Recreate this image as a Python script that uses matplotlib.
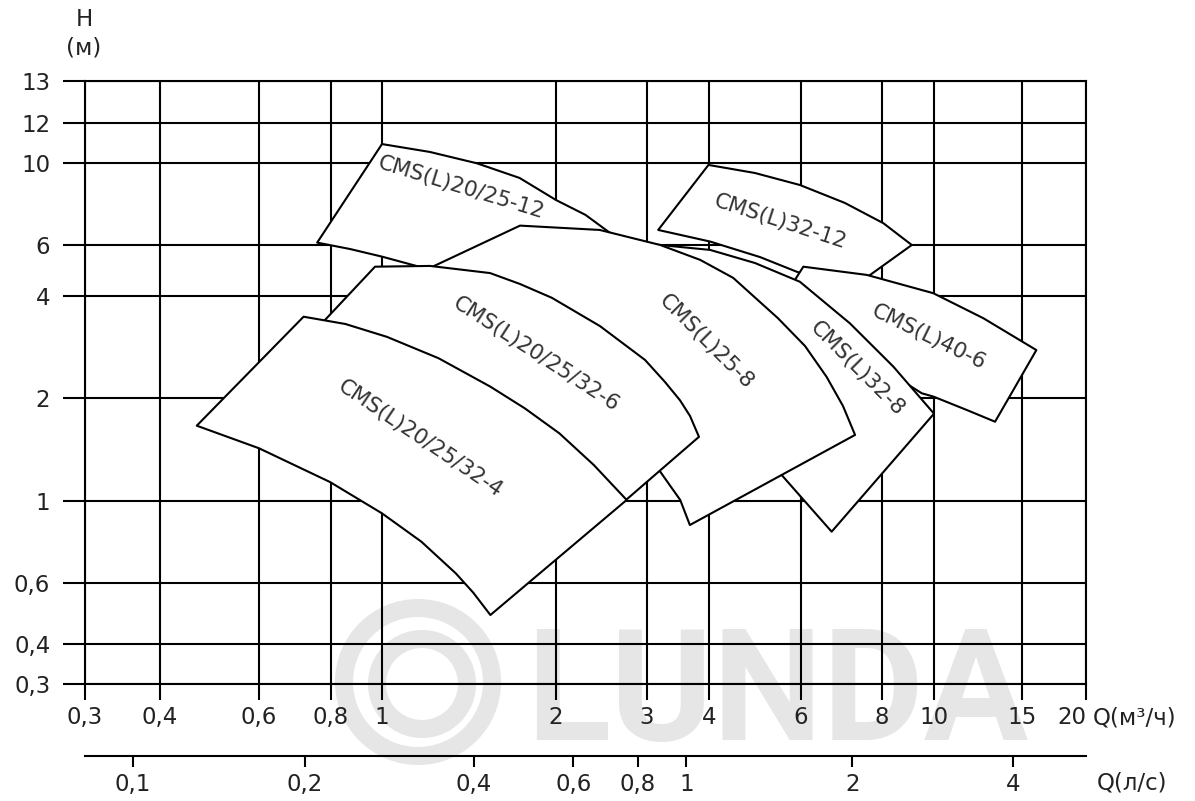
import numpy as np
import matplotlib
matplotlib.use("Agg")
import matplotlib.pyplot as plt
from matplotlib.patches import Circle
from matplotlib.ticker import NullLocator

plt.rcParams['font.family'] = ['DejaVu Sans']

# сетка на исходном графике не строго логарифмическая,
# поэтому шкалы задаются по положению линий сетки
q_ticks = [0.3, 0.4, 0.6, 0.8, 1, 2, 3, 4, 6, 8, 10, 15, 20]
q_labels = ['0,3', '0,4', '0,6', '0,8', '1', '2', '3', '4', '6', '8', '10', '15', '20']
q_grid_pos = [85, 160, 259, 331, 382, 556, 647, 709, 801, 882, 934, 1022, 1086]

h_ticks = [0.3, 0.4, 0.6, 1, 2, 4, 6, 10, 12, 13]
h_labels = ['0,3', '0,4', '0,6', '1', '2', '4', '6', '10', '12', '13']
h_grid_pos = [117, 157, 218, 300, 403, 505, 556, 638, 678.5, 720]

ls_ticks = [0.1, 0.2, 0.4, 0.6, 0.8, 1, 2, 4]          # л/с
ls_labels = ['0,1', '0,2', '0,4', '0,6', '0,8', '1', '2', '4']

# рабочие поля насосов (Q м3/ч, H м), обход по контуру
names = ["CMS(L)20/25-12", "CMS(L)32-12", "CMS(L)40-6", "CMS(L)32-8",
         "CMS(L)25-8", "CMS(L)20/25/32-6", "CMS(L)20/25/32-4"]

q_20_25_12 = [1.0, 1.21, 1.46, 1.73, 2.0, 2.28, 2.51, 2.91, 2.04, 1.48, 1.31, 1.13, 1.0, 0.87, 0.757]
h_20_25_12 = [10.89, 10.51, 9.98, 9.11, 7.94, 7.24, 6.56, 5.54, 3.89, 4.37, 4.73, 5.12, 5.47, 5.81, 6.09]

q_32_12 = [3.99, 4.898, 5.97, 7.014, 8.05, 9.09, 7.67, 7.14, 5.89, 5.01, 4.02, 3.16]
h_32_12 = [9.88, 9.396, 8.72, 7.795, 6.87, 6.0, 4.73, 4.21, 4.85, 5.45, 6.13, 6.59]

q_40_6 = [6.05, 7.58, 9.97, 12.55, 16.0, 13.25, 11.63, 9.97, 9.49, 8.10, 6.89, 5.52]
h_40_6 = [5.05, 4.73, 4.09, 3.44, 2.77, 1.705, 1.845, 2.02, 2.065, 2.42, 3.11, 3.89]

q_32_8 = [2.66, 3.19, 4.02, 4.898, 5.97, 7.14, 8.40, 10.0, 6.69, 6.12, 5.51, 4.585, 3.66, 2.91, 2.43]
h_32_8 = [6.08, 6.0, 5.77, 5.20, 4.48, 3.32, 2.475, 1.80, 0.826, 0.986, 1.191, 1.668, 2.42, 3.28, 3.89]

q_25_8 = [1.733, 2.43, 3.19, 3.84, 4.45, 5.42, 6.086, 6.57, 6.965, 7.27,
          3.66, 3.50, 3.19, 2.78, 2.23, 1.60, 1.074]
h_25_8 = [6.77, 6.59, 6.0, 5.33, 4.62, 3.44, 2.848, 2.31, 1.895, 1.56,
          0.861, 1.007, 1.218, 1.61, 2.19, 3.07, 4.47]

q_20_25_32_6 = [0.970, 1.211, 1.538, 1.733, 1.968, 2.433, 2.974, 3.261, 3.496, 3.663, 3.818,
                2.732, 2.03, 1.54, 1.02, 0.711]
h_20_25_32_6 = [5.05, 5.08, 4.80, 4.40, 3.95, 3.26, 2.59, 2.23, 1.97, 1.772, 1.54,
                1.007, 1.363, 1.845, 2.59, 2.867]

q_20_25_32_4 = [0.717, 0.852, 1.02, 1.253, 1.54, 1.766, 2.03, 2.367, 2.74,
                1.54, 1.438, 1.342, 1.170, 1.0, 0.797, 0.600, 0.465]
h_20_25_32_4 = [3.475, 3.307, 3.03, 2.62, 2.16, 1.866, 1.577, 1.274, 1.007,
                0.485, 0.563, 0.637, 0.776, 0.926, 1.136, 1.426, 1.66]

fields = [(q_20_25_12, h_20_25_12), (q_32_12, h_32_12), (q_40_6, h_40_6),
          (q_32_8, h_32_8), (q_25_8, h_25_8), (q_20_25_32_6, h_20_25_32_6),
          (q_20_25_32_4, h_20_25_32_4)]

# где стоят подписи и под каким углом
label_q = [1.37, 5.47, 9.79, 7.32, 3.94, 1.85, 1.163]
label_h = [8.56, 6.92, 3.03, 2.435, 2.93, 2.70, 1.518]
label_rot = [-17, -18, -26, -45, -45, -33, -34]


def grid_scale(vals, pos):
    lv = np.log10(vals)
    pos = np.asarray(pos, float)
    k0 = (pos[1] - pos[0]) / (lv[1] - lv[0])
    k1 = (pos[-1] - pos[-2]) / (lv[-1] - lv[-2])

    def fwd(v):
        l = np.log10(np.clip(np.asarray(v, float), 1e-9, None))
        out = np.interp(l, lv, pos)
        out = np.where(l < lv[0], pos[0] + (l - lv[0]) * k0, out)
        return np.where(l > lv[-1], pos[-1] + (l - lv[-1]) * k1, out)

    def inv(p):
        p = np.asarray(p, float)
        l = np.interp(p, pos, lv)
        l = np.where(p < pos[0], lv[0] + (p - pos[0]) / k0, l)
        l = np.where(p > pos[-1], lv[-1] + (p - pos[-1]) / k1, l)
        return 10 ** l

    return fwd, inv


xscale = grid_scale(q_ticks, q_grid_pos)
yscale = grid_scale(h_ticks, h_grid_pos)

W, H = 1195, 801
fs = 16.5
tc = '#222222'
fig = plt.figure(figsize=(W / 100, H / 100), dpi=100)

# водяной знак
wm = '#e6e6e6'
fig.add_artist(Circle((4.18, 1.19), 0.74, transform=fig.dpi_scale_trans,
                      fill=False, ec=wm, lw=13, zorder=-2))
fig.add_artist(Circle((4.22, 1.17), 0.45, transform=fig.dpi_scale_trans,
                      fill=False, ec=wm, lw=13, zorder=-2))
fig.text(526 / W, 61 / H, 'LUNDA', fontsize=112, fontweight='bold',
         family=['Roboto', 'DejaVu Sans'], color=wm, ha='left',
         va='baseline', zorder=-2)

ax = fig.add_axes([85 / W, 1 - 684 / H, 1001 / W, 603 / H], facecolor='none')
ax.set_xscale('function', functions=xscale)
ax.set_yscale('function', functions=yscale)
ax.set_xlim(0.3, 20)
ax.set_ylim(0.3, 13)
ax.set_xticks(q_ticks, q_labels)
ax.set_yticks(h_ticks, h_labels)
ax.xaxis.set_minor_locator(NullLocator())
ax.yaxis.set_minor_locator(NullLocator())
ax.get_xticklabels()[-1].set_horizontalalignment('right')
ax.grid(True, color='black', lw=1.5)
ax.set_axisbelow(True)
for s in ax.spines.values():
    s.set_linewidth(1.5)
ax.tick_params(axis='x', direction='out', length=11.5, width=1.5, pad=4,
               labelsize=fs, labelcolor=tc)
ax.tick_params(axis='y', direction='out', length=16, width=1.5, pad=9,
               labelsize=fs, labelcolor=tc)

for i, (q, h) in enumerate(fields):
    ax.fill(q, h, facecolor='white', edgecolor='black', lw=1.5,
            joinstyle='round', zorder=2 + i)
for i in range(len(names)):
    ax.text(label_q[i], label_h[i], names[i], rotation=label_rot[i],
            rotation_mode='anchor', ha='center', va='center',
            fontsize=15.5, color='#333333', zorder=20)

# вторая шкала расхода, л/с
ax2 = fig.add_axes([85 / W, 1 - 756 / H, 1001 / W, 0.001], facecolor='none')
ax2.set_xscale('function', functions=xscale)
ax2.set_xlim(0.3, 20)
ax2.set_xticks([v * 3.6 for v in ls_ticks], ls_labels)
ax2.xaxis.set_minor_locator(NullLocator())
ax2.set_yticks([])
for k in ['top', 'left', 'right']:
    ax2.spines[k].set_visible(False)
ax2.spines['bottom'].set_linewidth(1.5)
ax2.tick_params(axis='x', direction='out', length=8, width=1.5, pad=4,
                labelsize=fs, labelcolor=tc)

fig.text(84 / W, 1 - 20 / H, 'H', ha='center', va='center', fontsize=fs, color=tc)
fig.text(84 / W, 1 - 48 / H, '(м)', ha='center', va='center', fontsize=fs, color=tc)
fig.text(1093 / W, 1 - 718 / H, 'Q(м³/ч)', ha='left', va='center', fontsize=fs, color=tc)
fig.text(1097 / W, 1 - 783 / H, 'Q(л/с)', ha='left', va='center', fontsize=fs, color=tc)

fig.savefig('out.png', dpi=100, facecolor='white')
